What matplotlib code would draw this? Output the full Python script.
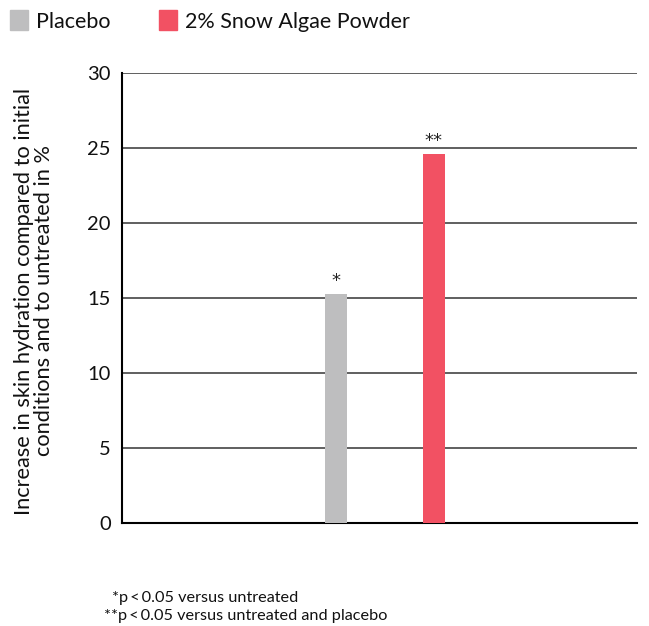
import matplotlib
matplotlib.use("Agg")
import matplotlib.pyplot as plt
from matplotlib.patches import Rectangle

plt.rcParams['font.family'] = ['Lato', 'DejaVu Sans']

# data
groups = ["Placebo", "2% Snow Algae Powder"]
values = [15.3, 24.6]
stars = ["*", "**"]
colors = ["#bebebf", "#f25163"]
yticks = [0, 5, 10, 15, 20, 25, 30]

fig = plt.figure(figsize=(6.49, 6.26), dpi=100)
W, H = 649, 626
ax = fig.add_axes([122 / W, 1 - 523 / H, (637 - 122) / W, (523 - 73) / H])

x = [0, 1]
ax.bar(x, values, width=0.224, color=colors, zorder=3)
for xi, v, s in zip(x, values, stars):
    ax.text(xi, v + 0.25, s, ha="center", va="bottom", fontsize=13,
            color="#222222", family="DejaVu Sans")

ax.set_xlim(-2.18, 3.07)
ax.set_ylim(0, 30)
ax.set_yticks(yticks)
ax.set_xticks([])
ax.tick_params(axis="y", length=0, pad=8, labelsize=14.5, colors="#111111")
for t in yticks[1:]:
    ax.axhline(t, color="#444444", lw=1.2, zorder=1)
ax.spines["top"].set_visible(False)
ax.spines["right"].set_visible(False)
ax.spines["left"].set_linewidth(1.5)
ax.spines["bottom"].set_linewidth(1.5)
fig.text(34 / W, 1 - 301 / H,
         "Increase in skin hydration compared to initial\nconditions and to untreated in %",
         fontsize=15.7, color="#111111", rotation=90, ha="center", va="center",
         linespacing=1.02, multialignment="center")

# legend
for i, (g, c) in enumerate(zip(groups, colors)):
    x0 = [10, 159][i]
    fig.patches.append(Rectangle((x0 / W, 1 - 30 / H), 18 / W, 20 / H,
                                 transform=fig.transFigure, color=c))
    fig.text((x0 + 26) / W, 1 - 22 / H, g, fontsize=15.5, va="center", color="#111111")

# footnotes
fig.text(112 / W, 1 - 598 / H, "*p\u2009<\u20090.05 versus untreated", fontsize=11.7, va="center", color="#111111")
fig.text(104 / W, 1 - 616 / H, "**p\u2009<\u20090.05 versus untreated and placebo", fontsize=11.7, va="center", color="#111111")

fig.savefig("out.png", dpi=100)
